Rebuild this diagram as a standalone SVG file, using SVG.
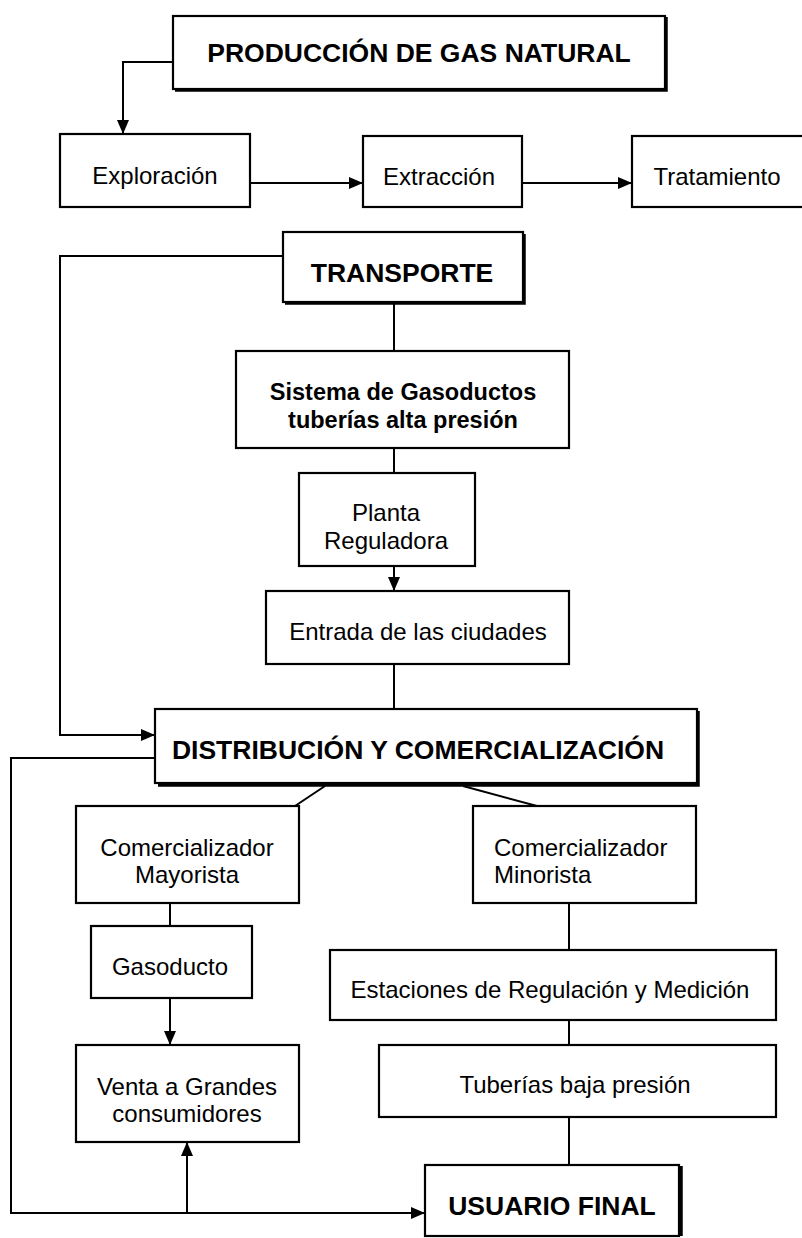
<svg xmlns="http://www.w3.org/2000/svg" width="802" height="1238" viewBox="0 0 802 1238">
<style>
.box{fill:#fff;stroke:#000;stroke-width:2.2}
.sh{stroke:#000;stroke-width:3.5;fill:none}
.t{font-family:"Liberation Sans",Arial,sans-serif;font-size:24px;fill:#000;text-anchor:middle}
.b{font-family:"Liberation Sans",Arial,sans-serif;font-size:23.5px;font-weight:bold;fill:#000;text-anchor:middle}
.h{font-family:"Liberation Sans",Arial,sans-serif;font-size:26.5px;font-weight:bold;fill:#000;text-anchor:middle}
.c{fill:none;stroke:#000;stroke-width:2}
</style>
<defs>
<marker id="arr" viewBox="0 0 14 12" refX="14" refY="6" markerWidth="14" markerHeight="12" orient="auto" markerUnits="userSpaceOnUse">
<path d="M0,0 L14,6 L0,12 z" fill="#000"/>
</marker>
</defs>
<rect width="802" height="1238" fill="#fff"/>
<g id="connectors">
<path class="c" d="M173,62 H123 V134" marker-end="url(#arr)"/>
<path class="c" d="M250,183 H363" marker-end="url(#arr)"/>
<path class="c" d="M522,183 H632" marker-end="url(#arr)"/>
<path class="c" d="M283,256 H60 V735 H155" marker-end="url(#arr)"/>
<path class="c" d="M394,303 V351"/>
<path class="c" d="M394,448 V473"/>
<path class="c" d="M394,566 V591" marker-end="url(#arr)"/>
<path class="c" d="M394,664 V709"/>
<path class="c" d="M325,786 L295,806"/>
<path class="c" d="M463,786 L537,806"/>
<path class="c" d="M170,903 V926"/>
<path class="c" d="M170,998 V1045" marker-end="url(#arr)"/>
<path class="c" d="M569,903 V950"/>
<path class="c" d="M569,1020 V1045"/>
<path class="c" d="M569,1117 V1165"/>
<path class="c" d="M155,758 H11 V1213 H425" marker-end="url(#arr)"/>
<path class="c" d="M187,1213 V1142" marker-end="url(#arr)"/>
</g>
<g id="produccion">
<rect class="box" x="173" y="16" width="492" height="73"/>
<path class="sh" d="M175,90 H666 V17"/>
<text class="h" x="419" y="62">PRODUCCIÓN DE GAS NATURAL</text>
</g>
<g id="exploracion">
<rect class="box" x="60" y="134" width="190" height="73"/>
<text class="t" x="155" y="184">Exploración</text>
</g>
<g id="extraccion">
<rect class="box" x="363" y="136" width="159" height="71"/>
<text class="t" x="439" y="185">Extracción</text>
</g>
<g id="tratamiento">
<rect class="box" x="632" y="136" width="180" height="71"/>
<text class="t" x="717" y="185">Tratamiento</text>
</g>
<g id="transporte">
<rect class="box" x="283" y="232" width="240" height="70"/>
<path class="sh" d="M285,303 H524 V234"/>
<text class="h" x="402" y="282">TRANSPORTE</text>
</g>
<g id="sistema">
<rect class="box" x="236" y="351" width="333" height="97"/>
<text class="b" x="403" y="400">Sistema de Gasoductos</text>
<text class="b" x="403" y="428">tuberías alta presión</text>
</g>
<g id="planta">
<rect class="box" x="299" y="473" width="176" height="93"/>
<text class="t" x="386" y="521">Planta</text>
<text class="t" x="386" y="549">Reguladora</text>
</g>
<g id="entrada">
<rect class="box" x="266" y="591" width="303" height="73"/>
<text class="t" x="418" y="640">Entrada de las ciudades</text>
</g>
<g id="distribucion">
<rect class="box" x="155" y="709" width="542" height="74"/>
<path class="sh" d="M158,785 H698 V711"/>
<text class="h" x="418" y="759">DISTRIBUCIÓN Y COMERCIALIZACIÓN</text>
</g>
<g id="mayorista">
<rect class="box" x="76" y="806" width="223" height="97"/>
<text class="t" x="187" y="856">Comercializador</text>
<text class="t" x="187" y="883">Mayorista</text>
</g>
<g id="minorista">
<rect class="box" x="473" y="806" width="223" height="97"/>
<text class="t" x="494" y="856" style="text-anchor:start">Comercializador</text>
<text class="t" x="494" y="883" style="text-anchor:start">Minorista</text>
</g>
<g id="gasoducto">
<rect class="box" x="91" y="926" width="161" height="72"/>
<text class="t" x="170" y="975">Gasoducto</text>
</g>
<g id="venta">
<rect class="box" x="76" y="1045" width="223" height="97"/>
<text class="t" x="187" y="1095">Venta a Grandes</text>
<text class="t" x="187" y="1122">consumidores</text>
</g>
<g id="estaciones">
<rect class="box" x="330" y="950" width="446" height="70"/>
<text class="t" x="550" y="998">Estaciones de Regulación y Medición</text>
</g>
<g id="tuberias">
<rect class="box" x="379" y="1045" width="397" height="72"/>
<text class="t" x="575" y="1093">Tuberías baja presión</text>
</g>
<g id="usuario">
<rect class="box" x="425" y="1165" width="254" height="71"/>
<path class="sh" d="M681,1166 V1236"/>
<text class="h" x="552" y="1215">USUARIO FINAL</text>
</g>
</svg>
